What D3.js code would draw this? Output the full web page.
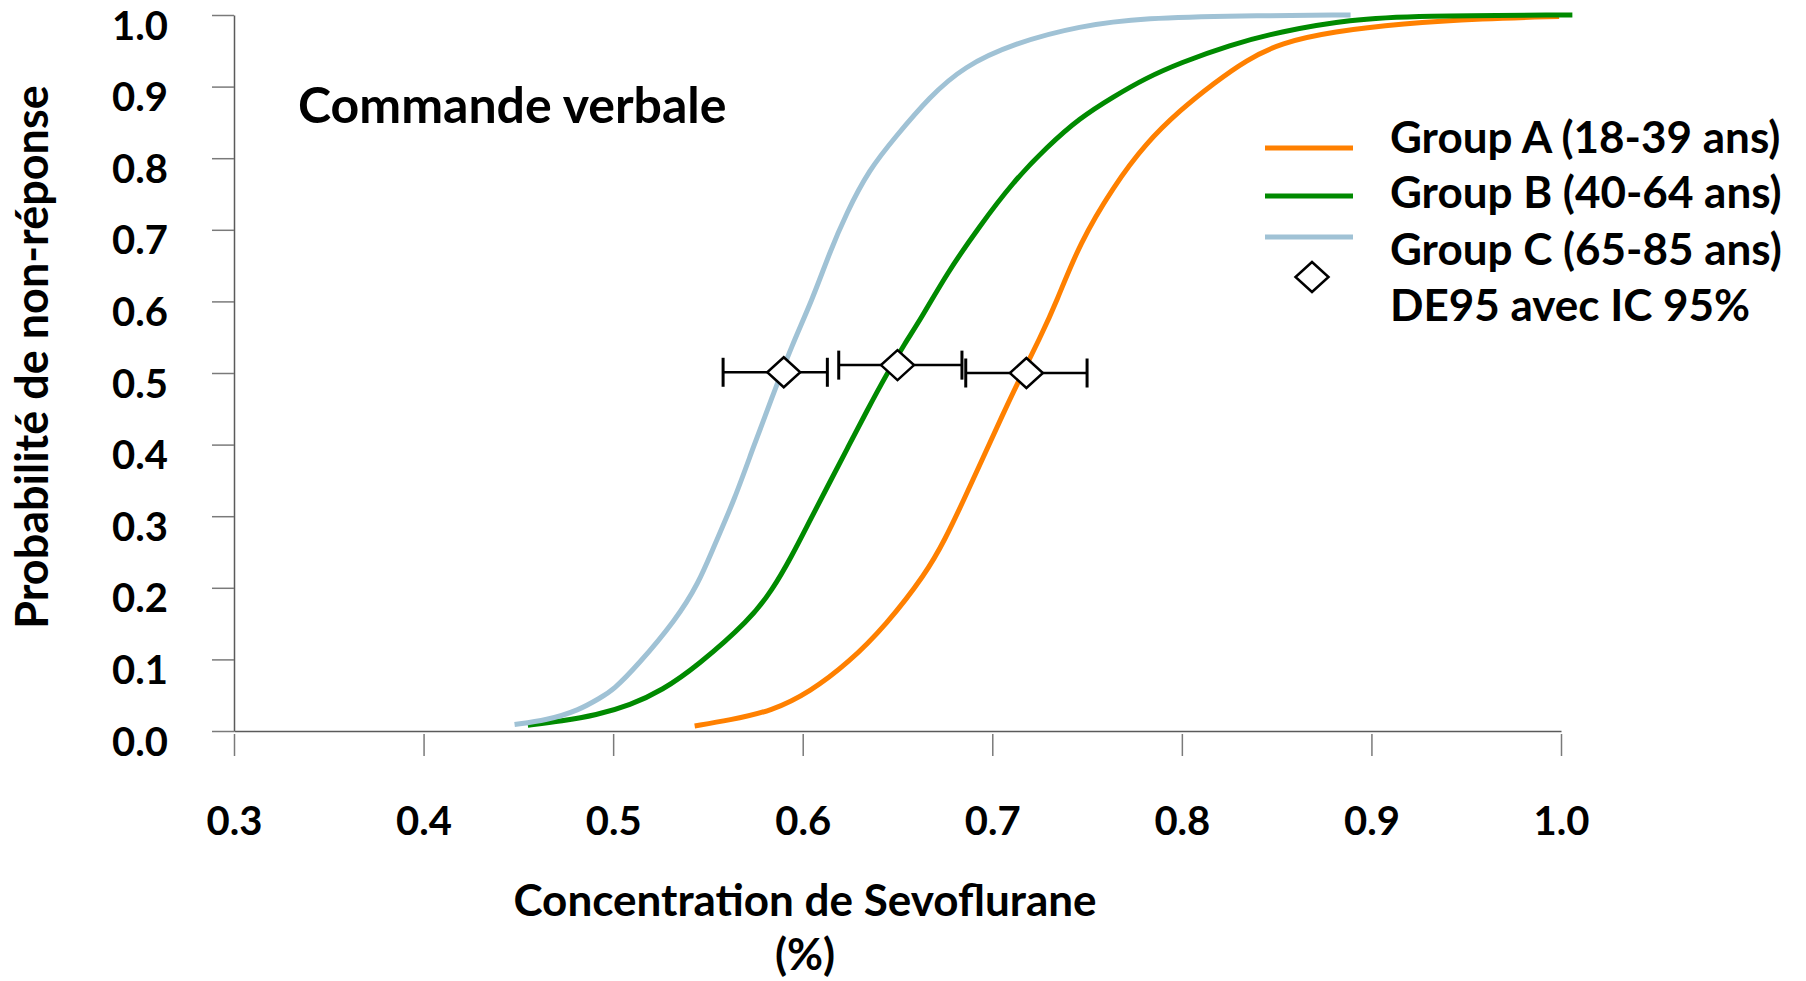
<!DOCTYPE html>
<html>
<head>
<meta charset="utf-8">
<script src="https://cdn.jsdelivr.net/npm/d3@7"></script>
<style>
  body { margin: 0; background: #fff; }
  svg text { font-family: Lato, "Open Sans", sans-serif; font-weight: 700; fill: #000; }
</style>
</head>
<body>
<div id="chart"></div>
<script>
// values
const groupNames = ['Group A (18-39 ans)', 'Group B (40-64 ans)', 'Group C (65-85 ans)'];
const groupColors = ['#ff8000', '#008a00', '#a0c2d5'];

const concA = [0.543, 0.561, 0.584, 0.604, 0.624, 0.644, 0.665, 0.675, 0.685, 0.695, 0.705, 0.715, 0.725, 0.734, 0.746, 0.764, 0.781, 0.799, 0.817, 0.834, 0.852, 0.880, 0.916, 0.959, 0.999];
const probA = [0.007, 0.015, 0.028, 0.055, 0.095, 0.148, 0.220, 0.267, 0.323, 0.381, 0.439, 0.495, 0.548, 0.600, 0.681, 0.761, 0.821, 0.867, 0.905, 0.937, 0.961, 0.977, 0.988, 0.995, 0.998];

const concB = [0.455, 0.473, 0.491, 0.509, 0.526, 0.544, 0.572, 0.584, 0.594, 0.604, 0.614, 0.624, 0.634, 0.644, 0.654, 0.662, 0.676, 0.693, 0.711, 0.729, 0.746, 0.764, 0.781, 0.799, 0.825, 0.852, 0.889, 0.924, 1.006];
const probB = [0.008, 0.014, 0.022, 0.036, 0.057, 0.090, 0.155, 0.197, 0.243, 0.295, 0.346, 0.397, 0.448, 0.497, 0.542, 0.574, 0.639, 0.704, 0.767, 0.816, 0.856, 0.886, 0.912, 0.933, 0.958, 0.977, 0.994, 0.999, 1.000];

const concC = [0.448, 0.465, 0.482, 0.493, 0.500, 0.513, 0.533, 0.545, 0.553, 0.564, 0.574, 0.584, 0.594, 0.605, 0.614, 0.623, 0.635, 0.649, 0.667, 0.685, 0.711, 0.746, 0.781, 0.830, 0.889];
const probC = [0.009, 0.015, 0.029, 0.046, 0.057, 0.092, 0.155, 0.206, 0.257, 0.323, 0.397, 0.467, 0.537, 0.602, 0.667, 0.723, 0.784, 0.830, 0.886, 0.928, 0.960, 0.985, 0.996, 0.999, 1.000];

// DE95 points with IC 95% (A, B, C)
const ed50 = [0.718, 0.650, 0.590];
const ed50Prob = [0.500, 0.511, 0.501];
const ciLow = [0.686, 0.619, 0.558];
const ciHigh = [0.750, 0.684, 0.613];

const xTicks = [0.3, 0.4, 0.5, 0.6, 0.7, 0.8, 0.9, 1.0];
const yTicks = [0, 0.1, 0.2, 0.3, 0.4, 0.5, 0.6, 0.7, 0.8, 0.9, 1.0];

const title = 'Commande verbale';
const xLabel = ['Concentration de Sevoflurane', '(%)'];
const yLabel = 'Probabilité de non-réponse';
const markerLabel = 'DE95 avec IC 95%';

// set the dimensions and margins of the graph
const margin = { top: 15, right: 245, bottom: 250, left: 234 };
const totalW = 1806, totalH = 981;
const width = totalW - margin.left - margin.right;
const height = totalH - margin.top - margin.bottom;

const x = d3.scaleLinear().domain([0.3, 1.0]).range([0, width]);
const y = d3.scaleLinear().domain([0, 1]).range([height, 0]);

const svg = d3.select('#chart')
  .append('svg')
  .attr('width', totalW)
  .attr('height', totalH)
  .append('g')
  .attr('transform', 'translate(' + margin.left + ',' + margin.top + ')');

/* Axes */
const fmt = d3.format('.1f');

const yAxis = svg.append('g')
  .attr('class', 'y axis')
  .call(d3.axisLeft(y).tickValues(yTicks).tickFormat(fmt).tickSize(22).tickSizeOuter(0));
yAxis.select('.domain').attr('stroke', '#5a5a5a').attr('stroke-width', 1.5);
yAxis.selectAll('.tick line').attr('stroke', '#7a7a7a').attr('stroke-width', 1.5);
yAxis.selectAll('.tick text')
  .attr('x', -66)
  .attr('dy', null)
  .attr('y', 24)
  .style('font-size', '40px');

const xAxis = svg.append('g')
  .attr('class', 'x axis')
  .attr('transform', `translate(0, ${height})`)
  .call(d3.axisBottom(x).tickValues(xTicks).tickFormat(fmt).tickSize(25).tickSizeOuter(0));
xAxis.select('.domain').attr('stroke', '#5a5a5a').attr('stroke-width', 1.5);
xAxis.selectAll('.tick line').attr('stroke', '#7a7a7a').attr('stroke-width', 1.5).attr('y1', 3);
xAxis.selectAll('.tick text')
  .attr('dy', null)
  .attr('y', 104)
  .style('font-size', '40px');

/* Curves */
const series = [
  { name: groupNames[0], color: groupColors[0], values: concA.map((c, i) => ({ c: c, p: probA[i] })) },
  { name: groupNames[1], color: groupColors[1], values: concB.map((c, i) => ({ c: c, p: probB[i] })) },
  { name: groupNames[2], color: groupColors[2], values: concC.map((c, i) => ({ c: c, p: probC[i] })) }
];

const line = d3.line()
  .curve(d3.curveBasis)
  .x(d => x(d.c))
  .y(d => y(d.p));

svg.append('g')
  .attr('class', 'lines')
  .selectAll('path')
  .data(series)
  .enter()
  .append('path')
  .attr('d', d => line(d.values))
  .attr('fill', 'none')
  .attr('stroke', d => d.color)
  .attr('stroke-width', 5);

/* DE95 + error bars */
const capH = 14.5;
const dw = 16.5, dh = 15;
const diamond = `M0,${-dh}L${dw},0L0,${dh}L${-dw},0Z`;

const bars = svg.append('g').attr('class', 'errorbars')
  .selectAll('g')
  .data(ed50.map((v, i) => ({ v: v, p: ed50Prob[i], lo: ciLow[i], hi: ciHigh[i] })))
  .enter()
  .append('g');

bars.append('line')
  .attr('x1', d => x(d.lo)).attr('x2', d => x(d.hi))
  .attr('y1', d => y(d.p)).attr('y2', d => y(d.p))
  .attr('stroke', '#000').attr('stroke-width', 2.5);
bars.append('line')
  .attr('x1', d => x(d.lo)).attr('x2', d => x(d.lo))
  .attr('y1', d => y(d.p) - capH).attr('y2', d => y(d.p) + capH)
  .attr('stroke', '#000').attr('stroke-width', 3);
bars.append('line')
  .attr('x1', d => x(d.hi)).attr('x2', d => x(d.hi))
  .attr('y1', d => y(d.p) - capH).attr('y2', d => y(d.p) + capH)
  .attr('stroke', '#000').attr('stroke-width', 3);
bars.append('path')
  .attr('d', diamond)
  .attr('transform', d => `translate(${x(d.v)},${y(d.p)})`)
  .attr('fill', '#fff')
  .attr('stroke', '#000')
  .attr('stroke-width', 2.5);

/* Texts */
svg.append('text')
  .attr('x', 298 - margin.left)
  .attr('y', 123 - margin.top)
  .style('font-size', '50px')
  .text(title);

svg.append('text')
  .attr('text-anchor', 'middle')
  .attr('transform', `translate(${48 - margin.left},${357 - margin.top}) rotate(-90)`)
  .style('font-size', '45px')
  .text(yLabel);

svg.selectAll('.xlabel')
  .data(xLabel)
  .enter()
  .append('text')
  .attr('class', 'xlabel')
  .attr('text-anchor', 'middle')
  .attr('x', 805 - margin.left)
  .attr('y', (d, i) => (i === 0 ? 916 : 970) - margin.top)
  .style('font-size', '44px')
  .text(d => d);

/* Legend */
const legend = svg.append('g')
  .attr('class', 'legend')
  .attr('transform', `translate(${1265 - margin.left},${margin.top * -1})`);
const legLineY = [148, 196, 237];
const legTextY = [153, 208, 265, 321];

legend.selectAll('line')
  .data(series)
  .enter()
  .append('line')
  .attr('x1', 0).attr('x2', 88)
  .attr('y1', (d, i) => legLineY[i]).attr('y2', (d, i) => legLineY[i])
  .attr('stroke', d => d.color)
  .attr('stroke-width', 5);

legend.append('path')
  .attr('d', diamond)
  .attr('transform', 'translate(47,277)')
  .attr('fill', '#fff')
  .attr('stroke', '#000')
  .attr('stroke-width', 2.5);

legend.selectAll('text')
  .data(groupNames.concat([markerLabel]))
  .enter()
  .append('text')
  .attr('x', 125)
  .attr('y', (d, i) => legTextY[i])
  .style('font-size', '44px')
  .text(d => d);
</script>
</body>
</html>
